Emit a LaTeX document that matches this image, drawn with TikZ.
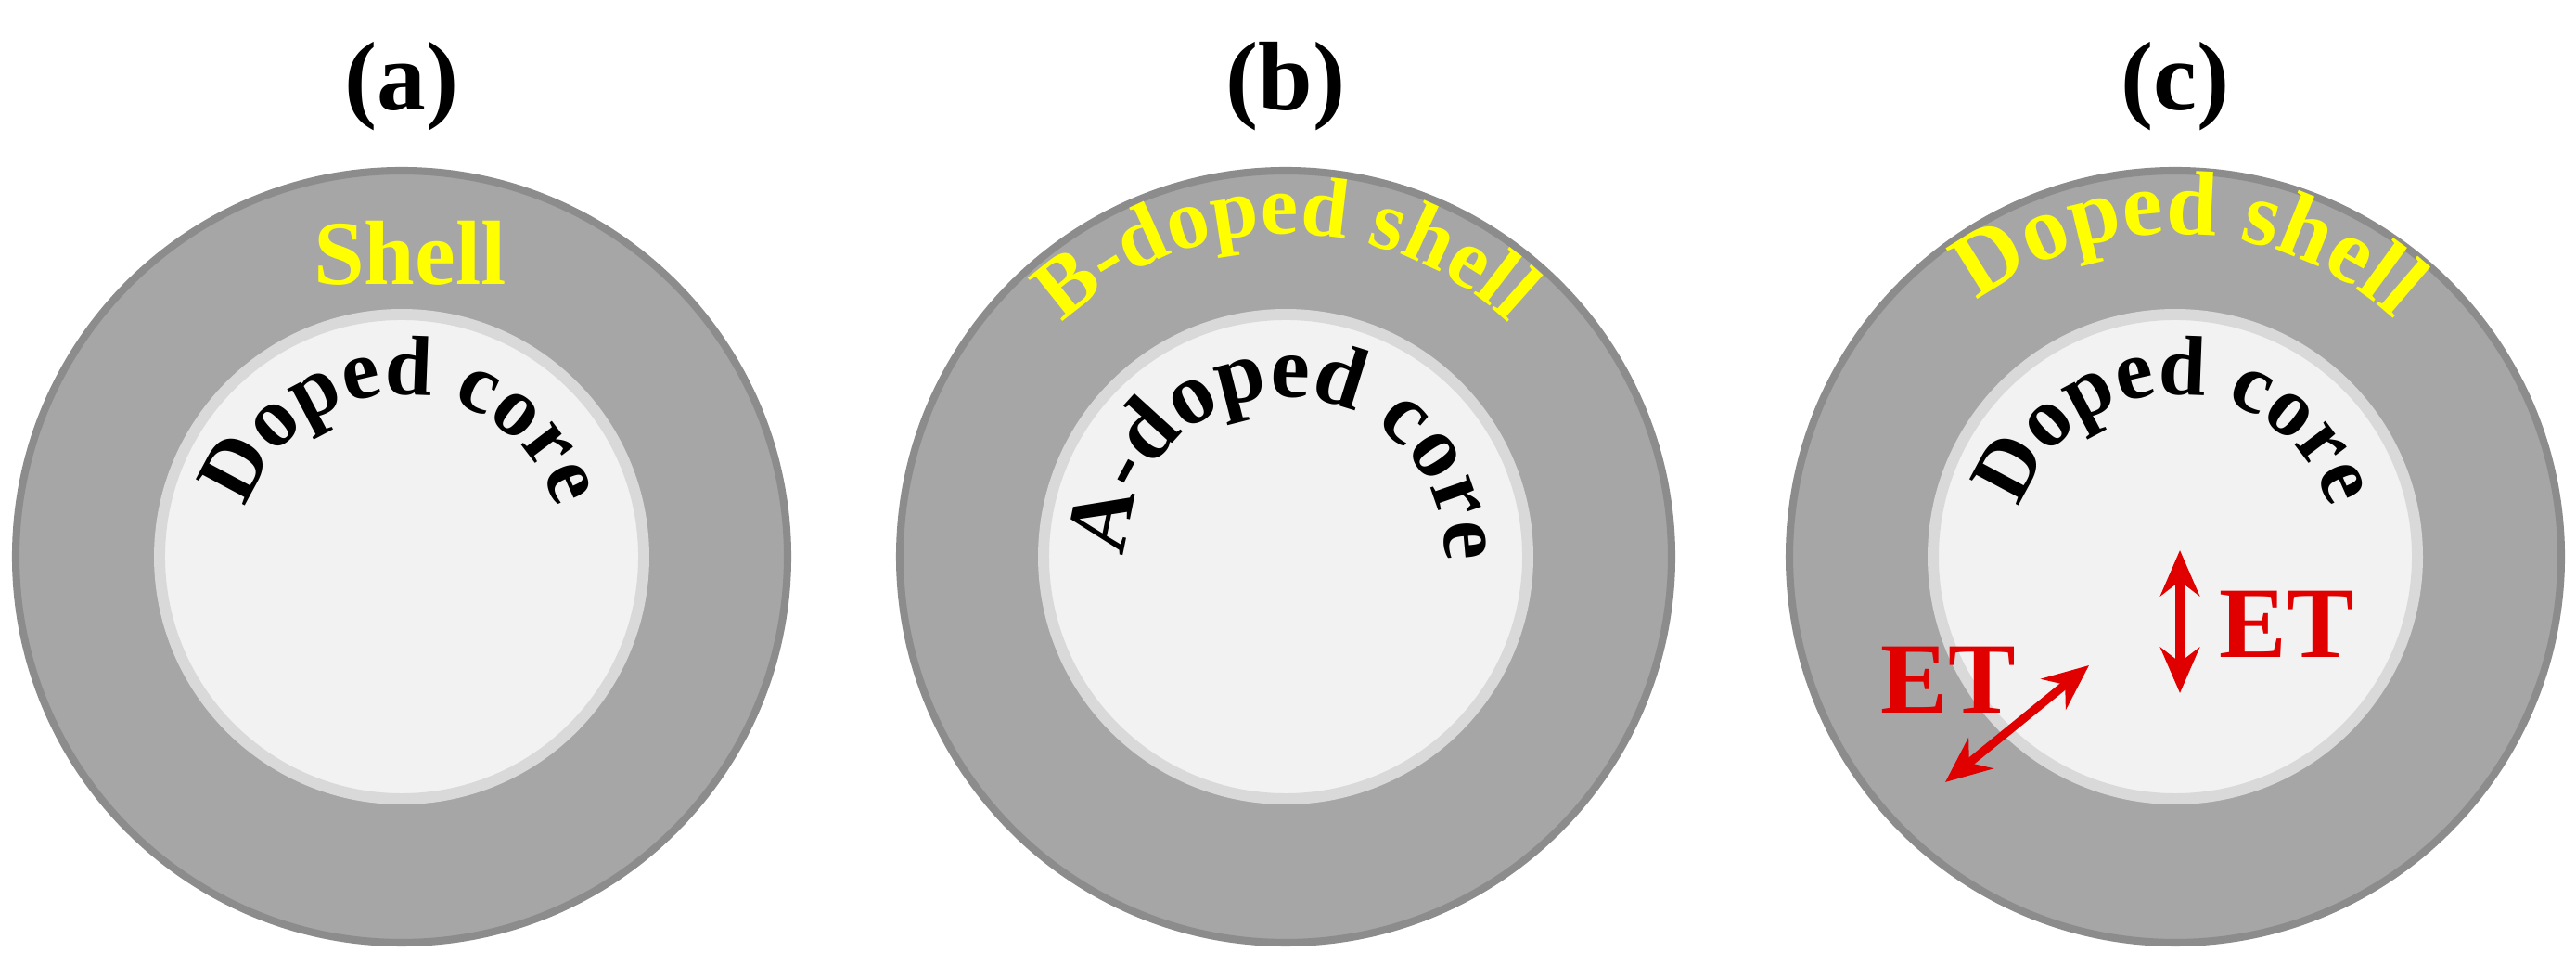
\documentclass[tikz,border=0pt]{standalone}
\usepackage{fontspec}
\setmainfont{Liberation Serif}
\usetikzlibrary{decorations.text,arrows.meta}
\definecolor{shellc}{HTML}{A6A6A6}
\definecolor{shelld}{HTML}{8C8C8C}
\definecolor{corec}{HTML}{F2F2F2}
\definecolor{cored}{HTML}{D9D9D9}
\definecolor{ylw}{HTML}{FFFF00}
\definecolor{etred}{HTML}{E00000}
\tikzset{
 shellring/.style={circle,fill=shellc,draw=shelld,line width=2.3pt,minimum size=8.32cm,inner sep=0pt},
 corering/.style={circle,fill=corec,draw=cored,line width=3.4pt,minimum size=5.22cm,inner sep=0pt},
 paneltag/.style={font=\bfseries\fontsize{30}{34}\selectfont},
 etlbl/.style={text=etred,font=\bfseries\fontsize{31}{36}\selectfont},
 etarrow/.style={etred,line width=2.6pt,{Stealth[length=14pt,width=12pt]}-{Stealth[length=14pt,width=12pt]}}
}
\begin{document}
\begin{tikzpicture}
\useasboundingbox (0,0) rectangle (27.77,10.40);
\foreach \n/\x/\t in {a/4.33/(a),b/13.86/(b),c/23.45/(c)}{
  \node[shellring] (o\n) at (\x,4.40) {};
  \node[corering] (i\n) at (\x,4.40) {};
  \node[paneltag] (t\n) at (\x,9.47) {\t};
}
\node[text=ylw,font=\bfseries\fontsize{28}{32}\selectfont] (shl) at (4.42,7.67) {Shell};
% curved texts
\path[decorate,decoration={text along path,text align=center,text color=black,
  text={|\bfseries\fontsize{26}{30}\selectfont|Doped core}}]
  (ia.center) ++(170:1.75) arc[start angle=170,end angle=10,radius=1.75];
\path[decorate,decoration={text along path,text align=center,text color=black,
  text={|\bfseries\fontsize{27}{30}\selectfont|A-doped core}}]
  (ib.center) ++(175:1.72) arc[start angle=175,end angle=3,radius=1.72];
\path[decorate,decoration={text along path,text align=center,text color=black,
  text={|\bfseries\fontsize{26}{30}\selectfont|Doped core}}]
  (ic.center) ++(170:1.75) arc[start angle=170,end angle=10,radius=1.75];
\path[decorate,decoration={text along path,text align=center,text color=ylw,
  text={|\bfseries\fontsize{26}{30}\selectfont|B-doped shell}}]
  (ob.center) ++(140:3.48) arc[start angle=140,end angle=40,radius=3.48];
\path[decorate,decoration={text along path,text align=center,text color=ylw,
  text={|\bfseries\fontsize{28}{32}\selectfont|Doped shell}}]
  (oc.center) ++(135:3.48) arc[start angle=135,end angle=40,radius=3.48];
% ET
\coordinate (v1) at (23.50,4.47);
\coordinate (v2) at (23.50,2.93);
\coordinate (d1) at (22.52,3.23);
\coordinate (d2) at (20.97,1.97);
\draw[etarrow] (v1) -- (v2);
\draw[etarrow] (d1) -- (d2);
\node[etlbl] (et1) at (24.65,3.67) {ET};
\node[etlbl] (et2) at (21.00,3.07) {ET};
\end{tikzpicture}
\end{document}
